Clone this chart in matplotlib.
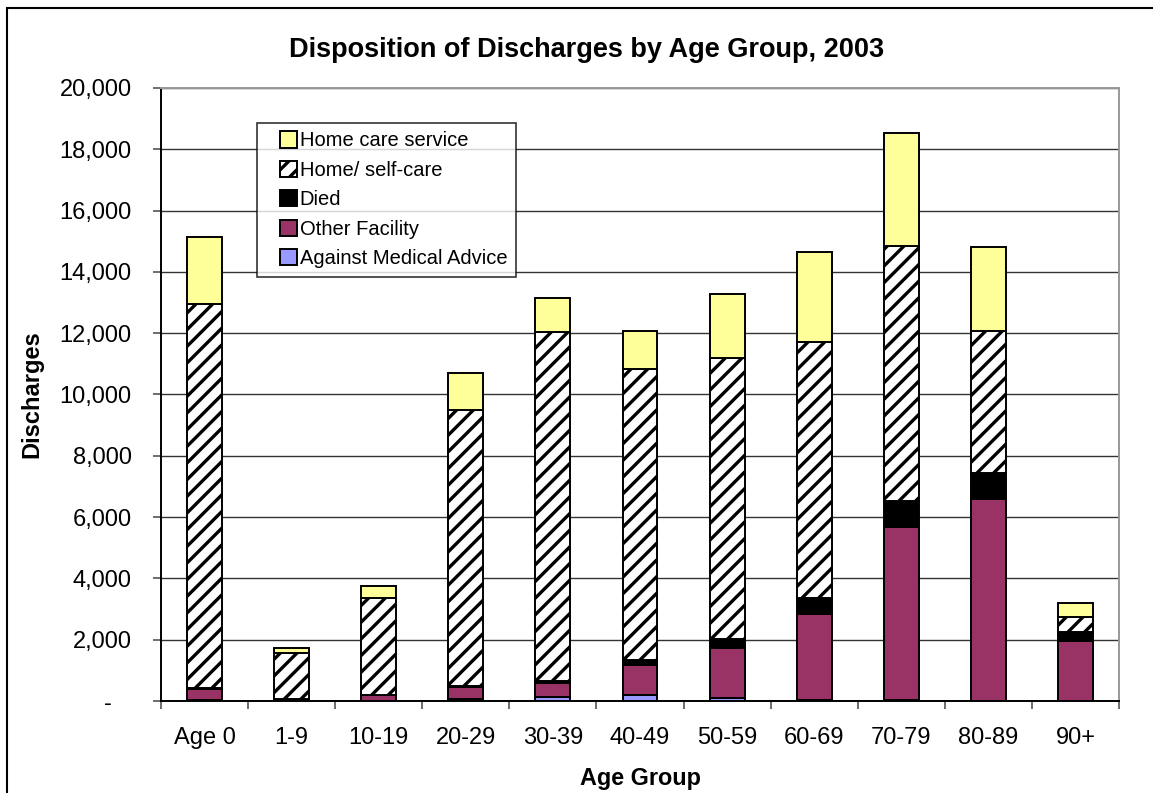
import matplotlib
matplotlib.use("Agg")
import matplotlib.pyplot as plt
import matplotlib.patches as mpatches
from matplotlib.legend_handler import HandlerPatch
import numpy as np
from matplotlib.ticker import FuncFormatter, MultipleLocator, FixedLocator

plt.rcParams['font.family'] = ['Liberation Sans', 'DejaVu Sans']
plt.rcParams['hatch.linewidth'] = 2.4

# data
age_groups = ['Age 0', '1-9', '10-19', '20-29', '30-39', '40-49',
              '50-59', '60-69', '70-79', '80-89', '90+']
against_advice = [20, 10, 15, 80, 130, 180, 100, 30, 20, 10, 5]
other_facility = [370, 40, 170, 380, 470, 995, 1620, 2810, 5660, 6580, 1955]
died = [20, 15, 20, 40, 60, 165, 295, 520, 845, 850, 283]
home_self = [12540, 1500, 3155, 8990, 11380, 9490, 9175, 8350, 8330, 4630, 500]
home_care = [2190, 180, 390, 1210, 1110, 1240, 2090, 2940, 3690, 2740, 468]

series = [
    ('Against Medical Advice', against_advice, '#9999FF', None),
    ('Other Facility', other_facility, '#993366', None),
    ('Died', died, 'black', None),
    ('Home/ self-care', home_self, 'white', '//'),
    ('Home care service', home_care, '#FFFF99', None),
]

fig = plt.figure(figsize=(11.53, 7.93), dpi=100)
ax = fig.add_axes([161 / 1153, 1 - 701 / 793, 958 / 1153, 613 / 793])

x = np.arange(len(age_groups))
bottom = np.zeros(len(age_groups))
handles = []
for label, vals, color, hatch in series:
    vals = np.array(vals, dtype=float)
    b = ax.bar(x, vals, width=0.40, bottom=bottom, color=color,
               edgecolor='black', linewidth=1.4, hatch=hatch, label=label,
               zorder=3)
    handles.append(b)
    bottom += vals

ax.set_xlim(-0.5, len(age_groups) - 0.5)
ax.set_ylim(0, 20000)
ax.yaxis.set_major_locator(MultipleLocator(2000))
# accounting style: zero shown as a dash, set in from the right
ax.yaxis.set_major_formatter(FuncFormatter(
    lambda v, p: '-   ' if v == 0 else f'{int(v):,}'))
ax.grid(axis='y', color='#333333', linewidth=1.0, zorder=0)

ax.set_xticks(x)
ax.set_xticklabels(age_groups)
ax.tick_params(axis='x', which='major', length=0, pad=19, labelsize=17)
ax.xaxis.set_minor_locator(FixedLocator(np.arange(-0.5, len(age_groups), 1.0)))
ax.tick_params(axis='x', which='minor', length=6, width=1.2, color='#555555')
ax.tick_params(axis='y', length=6, width=1.2, color='#555555', pad=15, labelsize=17)

for side in ['left', 'bottom']:
    ax.spines[side].set_color('black')
    ax.spines[side].set_linewidth(1.4)
for side in ['top', 'right']:
    ax.spines[side].set_color('#999999')
    ax.spines[side].set_linewidth(1.4)

ax.set_xlabel('Age Group', fontsize=16.8, fontweight='bold', labelpad=13)
ax.set_ylabel('Discharges', fontsize=17, fontweight='bold', labelpad=12)

fig.text(587 / 1153, 1 - 50 / 793, 'Disposition of Discharges by Age Group, 2003',
         ha='center', va='center', fontsize=19.5, fontweight='bold')


# square legend keys sitting at the right end of a wider handle box
def square_key(legend, orig_handle, xdescent, ydescent, width, height, fontsize):
    side = height * 1.05
    return mpatches.Rectangle((width - side - xdescent, -ydescent + (height - side) / 2),
                              side, side)


leg = fig.legend([h.patches[0] for h in handles[::-1]], [s[0] for s in series][::-1],
                 loc='upper left', bbox_to_anchor=(257 / 1153, 1 - 123 / 793),
                 fontsize=14.5, frameon=True, fancybox=False, shadow=False,
                 handlelength=1.55, handleheight=0.8, handletextpad=0.15,
                 labelspacing=0.52, borderpad=0.42, borderaxespad=0,
                 handler_map={mpatches.Rectangle: HandlerPatch(patch_func=square_key)})
leg.get_frame().set_edgecolor('black')
leg.get_frame().set_linewidth(1.2)

# outer border of the chart area
fig.patches.append(mpatches.Rectangle((7 / 1153, -0.1), 1.2, 1.1 - 8 / 793,
                                      transform=fig.transFigure, fill=False,
                                      edgecolor='black', linewidth=1.5))

fig.savefig('out.png', dpi=100)
